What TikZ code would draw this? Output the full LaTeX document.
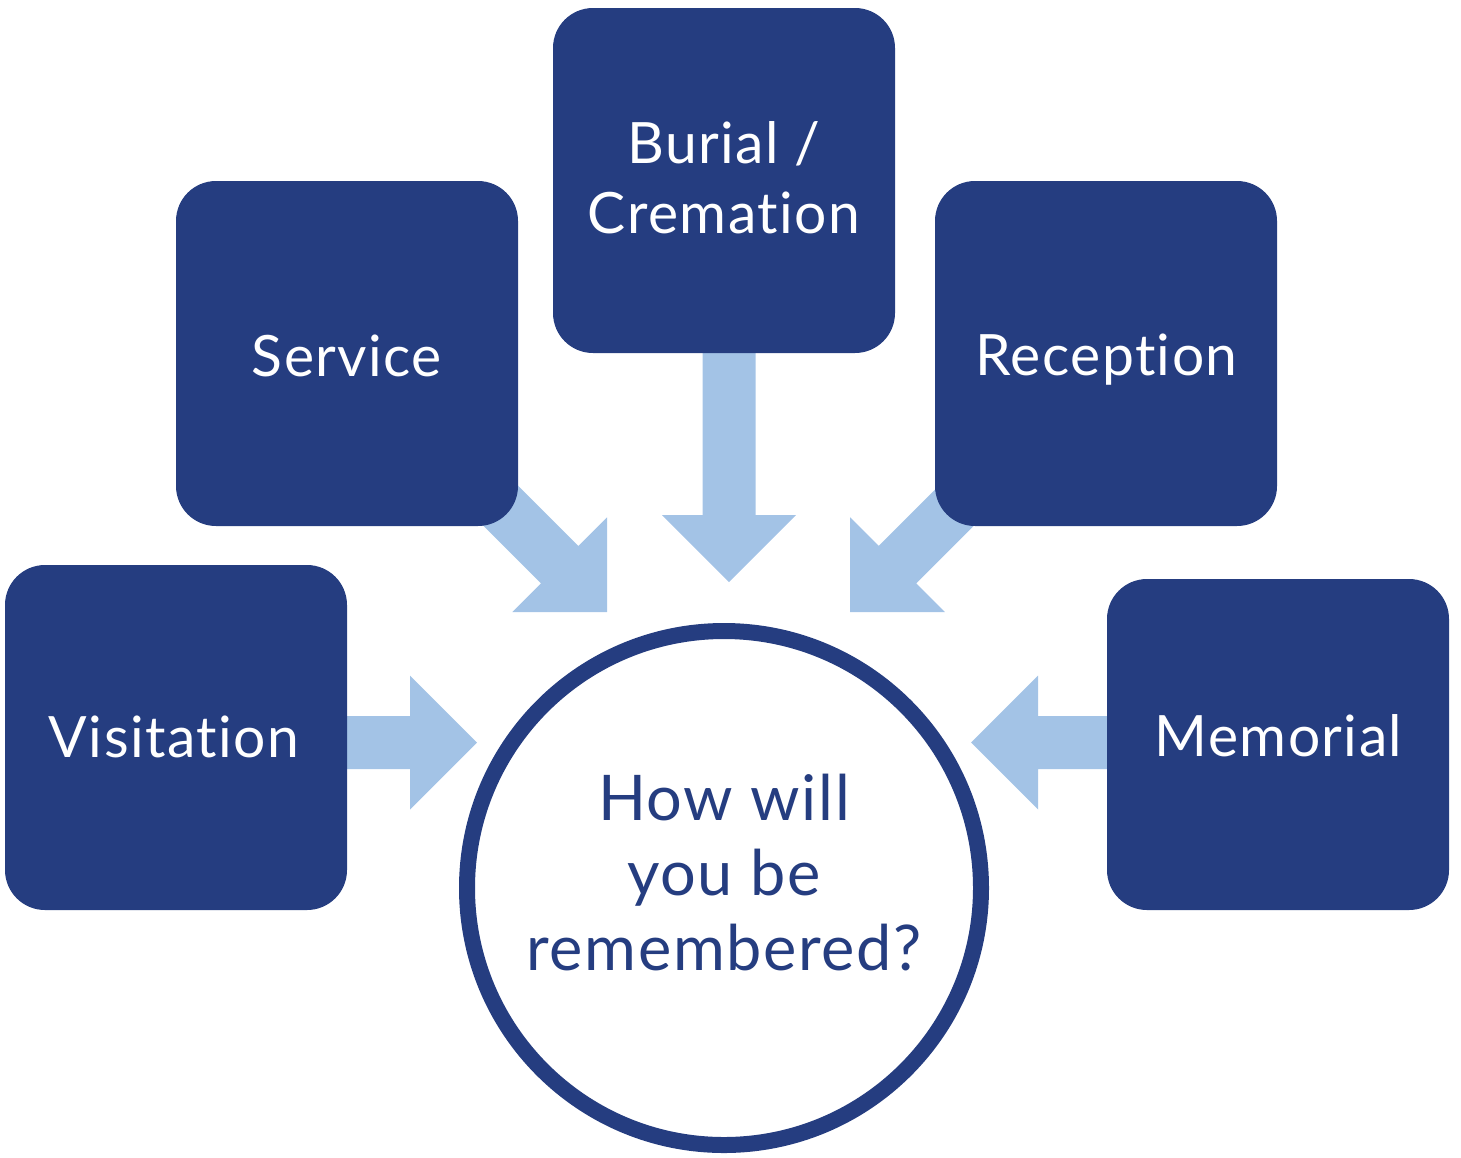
\documentclass[tikz,border=0pt]{standalone}
\usepackage{fontspec}
\setmainfont{Lato}[Ligatures={NoCommon,NoRare,NoContextual}, LetterSpace=2.5]
\definecolor{navy}{HTML}{253D80}
\definecolor{lightblue}{HTML}{A3C3E6}
\tikzset{
  box/.style={fill=navy, draw=none, rounded corners=40pt, inner sep=0pt,
    minimum width=342pt, minimum height=345pt},
  boxtext/.style={text=white, inner sep=0pt, align=center, text depth=0pt,
    font=\fontsize{57}{70}\selectfont},
  circtext/.style={text=navy, inner sep=0pt, align=center, text depth=0pt,
    font=\fontsize{63}{75}\selectfont},
  blockarrow/.style={fill=lightblue, draw=none},
  ring/.style={draw=navy, line width=16pt, fill=white}
}
\newcommand{\blockarr}[3]{% angle, tip, length
  \begin{scope}[shift={#2}, rotate=#1]
    \fill[blockarrow] (0,0) -- (-67,67) -- (-67,26.5) -- (-#3,26.5)
      -- (-#3,-26.5) -- (-67,-26.5) -- (-67,-67) -- cycle;
  \end{scope}}
\begin{document}
\begin{tikzpicture}[x=1pt, y=-1pt]
\useasboundingbox (0,0) rectangle (1461,1157);
% coordinates for arrow tips
\coordinate (tipB) at (729,582);
\coordinate (tipS) at (607,612);
\coordinate (tipR) at (850,612);
\coordinate (tipV) at (477,742.5);
\coordinate (tipM) at (971,742.5);
% block arrows (behind boxes)
\blockarr{-90}{(tipB)}{242}
\blockarr{-45}{(tipS)}{208}
\blockarr{-135}{(tipR)}{208}
\blockarr{0}{(tipV)}{137}
\blockarr{180}{(tipM)}{144}
% boxes
\node[box] (bur) at (724,180.5) {};
\node[box] (svc) at (347,353.5) {};
\node[box] (rec) at (1106,353.5) {};
\node[box] (vis) at (176,737.5) {};
\node[box, minimum height=331pt] (mem) at (1278,744.5) {};
% box labels
\node[boxtext] (burT) at (724,178) {Burial /\\Cremation};
\node[boxtext] (svcT) at (347,355.5) {Service};
\node[boxtext] (recT) at (1106.5,354.5) {Reception};
\node[boxtext] (visT) at (174,737) {Visitation};
\node[boxtext] (memT) at (1278.5,735.5) {Memorial};
% central circle
\node[ring, circle, minimum size=514pt, inner sep=0pt] (ctr) at (724,888) {};
\node[circtext] (ctrT) at (724,872) {How will\\you be\\remembered?};
\end{tikzpicture}
\end{document}
